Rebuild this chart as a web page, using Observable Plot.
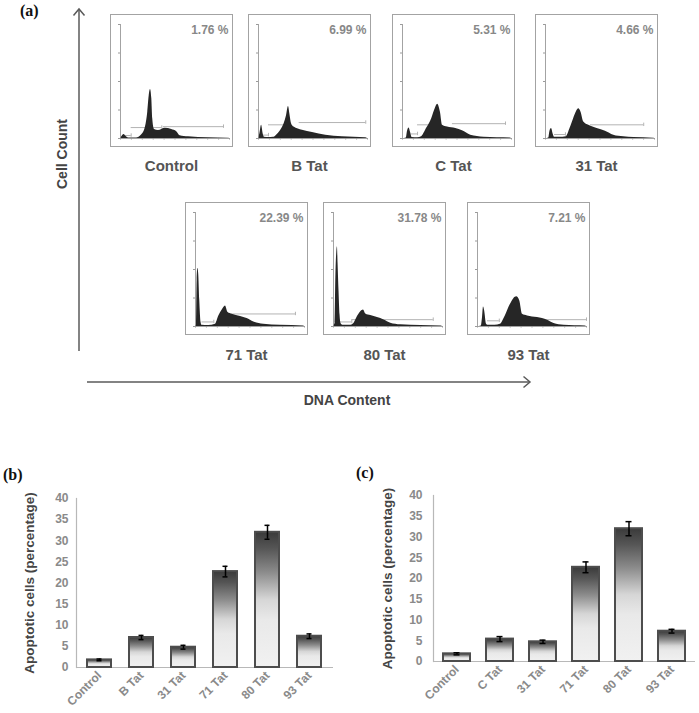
<!DOCTYPE html>
<html>
<head>
<meta charset="utf-8">
<script src="https://cdn.jsdelivr.net/npm/d3@7"></script>
<script src="https://cdn.jsdelivr.net/npm/@observablehq/plot@0.6"></script>
<style>
  body { margin: 0; background: #fff; }
  #fig { position: relative; width: 699px; height: 713px; overflow: hidden; font-family: "Liberation Sans", Arial, sans-serif; }
  .abs { position: absolute; }
  .panel { position: absolute; font: bold 16px/1 "Liberation Serif", "Times New Roman", serif; color: #111; }
  .hbox { position: absolute; border: 1.5px solid #a3a3a3; box-sizing: border-box; width: 123px; height: 133px; background: #fff; }
  .hbox svg { display: block; }
  .hlabel { position: absolute; font: bold 15px/1 "Liberation Sans", Arial, sans-serif; color: #555; transform: translate(-50%, -50%); white-space: nowrap; }
  .axtitle { position: absolute; font: bold 14px/1 "Liberation Sans", Arial, sans-serif; color: #444; white-space: nowrap; transform: translate(-50%, -50%); }
  .bars svg [aria-label="y-axis label"], .bars svg [aria-label="y-axis label"] text {
    fill: #454545 !important; font-size: 13.5px !important; font-weight: bold !important;
  }
</style>
</head>
<body>
<div id="fig"></div>
<script>
// ---------------- DATA ----------------
// Panel (a): DNA-content histograms, [channel, relative count]
const histNames = ["Control", "B Tat", "C Tat", "31 Tat", "71 Tat", "80 Tat", "93 Tat"];
const histPercents = ["1.76 %", "6.99 %", "5.31 %", "4.66 %", "22.39 %", "31.78 %", "7.21 %"];

const histControl = [[0,0],[12,1.5],[32,3.5],[55,1.5],[73,0.5],[147,0.5],[193,3],[226,9],[250,23],[263,37],[275,43],[287,35],[296,17],[312,8],[348,7],[410,9],[470,8],[516,6],[547,2.5],[624,1.5],[807,0.6],[990,0.3],[1000,0]];
const histBTat = [[0,0],[12,4],[28,11.6],[43,4],[55,1],[92,0.8],[138,1],[159,2.3],[204,7.2],[235,13],[257,20],[275,28],[290,20],[303,13],[326,10],[403,7.2],[495,5.2],[617,2.9],[770,1.5],[984,0.6],[1000,0]];
const histCTat = [[0,0],[35,0.5],[45,6],[60,9.3],[75,5],[88,0.8],[140,0.6],[175,1.5],[220,8.7],[268,17.4],[300,26],[322,30],[348,23],[367,11.6],[413,10],[489,8.7],[550,6.7],[626,2.9],[748,1.2],[990,0.4],[1000,0]];
const hist31Tat = [[0,0],[30,0.5],[40,6],[55,8.7],[70,4],[82,1.2],[130,1],[190,1.5],[225,8.7],[258,17.4],[284,23.5],[305,26],[326,23],[351,14.5],[397,11.6],[473,8.7],[550,6.4],[626,2.9],[718,1.5],[810,0.9],[993,0.3],[1000,0]];
const hist71Tat = [[0,0],[10,2],[15,40],[22,51],[30,45],[39,23],[51,3.5],[60,1],[120,0.8],[183,2],[214,9.3],[245,14.5],[275,18],[299,12.2],[336,10.7],[413,8.7],[473,7],[535,4],[626,2],[779,1.1],[993,0.4],[1000,0]];
const hist80Tat = [[0,0],[15,3],[22,45],[30,65],[36,70],[42,55],[51,30],[60,10],[70,2.5],[90,1],[150,1],[189,2.9],[220,8.7],[250,13],[275,14.5],[296,11],[342,9.6],[403,7.8],[464,5.8],[525,2.9],[617,1.5],[800,0.9],[990,0.4],[1000,0]];
const hist93Tat = [[0,0],[35,0.5],[46,8],[55,17],[65,14],[83,2],[95,1],[160,1],[210,2],[255,9.3],[300,19],[333,24.4],[360,26],[388,22.4],[413,10.7],[459,9.3],[550,7.8],[642,5.5],[702,2.6],[794,1.1],[990,0.4],[1000,0]];

// gate markers [x1, x2, level]
const gatesControl = [[46,98,2.6],[98,379,9.6],[394,945,10.4]];
const gatesBTat = [[45,92,3],[92,266,12],[373,984,14]];
const gatesCTat = [[80,138,4],[138,348,12],[458,945,13]];
const gates31Tat = [[83,183,3.5],[413,901,12]];
const gates71Tat = [[60,168,4],[260,917,11]];
const gates80Tat = [[60,168,4],[168,915,6]];
const gates93Tat = [[92,200,5],[397,1000,6]];

// Panel (b)
const catsB = ["Control", "B Tat", "31 Tat", "71 Tat", "80 Tat", "93 Tat"];
const meanB = [1.8, 7.1, 4.8, 22.7, 32.0, 7.4];
const errB  = [0.2, 0.5, 0.45, 1.25, 1.65, 0.55];

// Panel (c)
const catsC = ["Control", "C Tat", "31 Tat", "71 Tat", "80 Tat", "93 Tat"];
const meanC = [1.85, 5.4, 4.75, 22.7, 32.0, 7.3];
const errC  = [0.25, 0.6, 0.4, 1.3, 1.7, 0.45];

const yTicks = [0, 5, 10, 15, 20, 25, 30, 35, 40];

// ---------------- LAYOUT ----------------
const fig = document.getElementById("fig");
const histData = [histControl, histBTat, histCTat, hist31Tat, hist71Tat, hist80Tat, hist93Tat];
const gateData = [gatesControl, gatesBTat, gatesCTat, gates31Tat, gates71Tat, gates80Tat, gates93Tat];
const boxLeft = [110, 248, 392, 535, 185, 323, 467];
const boxTop  = [14, 14, 14, 14, 202, 202, 202];
const labelY  = [165, 165, 165, 165, 354, 354, 354];

function addDiv(cls, html, style) {
  const d = document.createElement("div");
  d.className = cls;
  d.innerHTML = html;
  Object.assign(d.style, style);
  fig.appendChild(d);
  return d;
}

// arrows of panel (a)
fig.insertAdjacentHTML("beforeend",
  `<svg class="abs" style="left:0;top:0" width="699" height="420">
     <g stroke="#5a5a5a" stroke-width="1.5" fill="none">
       <line x1="79" y1="9" x2="79" y2="351"/>
       <polyline points="73.5,15.5 79,9 84.5,15.5"/>
       <line x1="87" y1="382" x2="530" y2="382"/>
       <polyline points="523.5,376.5 530,382 523.5,387.5"/>
     </g>
   </svg>`);

addDiv("panel", "(a)", {left: "20px", top: "3px"});
addDiv("panel", "(b)", {left: "3px", top: "467px"});
addDiv("panel", "(c)", {left: "356px", top: "465px"});
addDiv("axtitle", "Cell Count", {left: "62px", top: "154px", transform: "translate(-50%,-50%) rotate(-90deg)"});
addDiv("axtitle", "DNA Content", {left: "347px", top: "400px"});

function histPlot(data, gates, pct) {
  const d = data.map(([ch, c]) => ({ch, c}));
  const g = gates.map(([x1, x2, y]) => ({x1, x2, y}));
  return Plot.plot({
    width: 120, height: 130,
    marginLeft: 9, marginTop: 9, marginBottom: 7, marginRight: 2,
    x: {type: "linear", domain: [0, 1000], axis: null},
    y: {type: "linear", domain: [0, 100], axis: null},
    style: {background: "transparent", overflow: "visible", fontFamily: "Liberation Sans, Arial, sans-serif"},
    marks: [
      Plot.ruleY(g, {x1: "x1", x2: "x2", y: "y", stroke: "#a0a0a0", strokeWidth: 0.8}),
      Plot.ruleX(g, {x: "x2", y1: d => d.y - 1.5, y2: d => d.y + 1.5, stroke: "#a0a0a0", strokeWidth: 0.8}),
      Plot.areaY(d, {x: "ch", y: "c", fill: "#262626", curve: "monotone-x"}),
      Plot.ruleX([0], {stroke: "#8c8c8c", strokeWidth: 0.8}),
      Plot.ruleY([0], {stroke: "#8c8c8c", strokeWidth: 0.8}),
      Plot.axisY({ticks: [0, 25, 50, 75, 100], tickSize: 2, tickFormat: () => "", label: null, stroke: "#9a9a9a"}),
      Plot.axisX({ticks: d3.range(0, 1001, 100), tickSize: 1.5, tickFormat: () => "", label: null, stroke: "#9a9a9a"}),
      Plot.text([pct], {text: d => d, frameAnchor: "top-right", lineAnchor: "top", textAnchor: "end",
        fontSize: 12, fontWeight: "bold", fill: "#888888", dx: -1, dy: 1})
    ]
  });
}

histNames.forEach((name, i) => {
  const box = addDiv("hbox", "", {left: boxLeft[i] + "px", top: boxTop[i] + "px"});
  box.appendChild(histPlot(histData[i], gateData[i], histPercents[i]));
  addDiv("hlabel", name, {left: (boxLeft[i] + 61.5) + "px", top: labelY[i] + "px"});
});

// ---------------- BAR CHARTS ----------------
function barPlot(cats, vals, errs, o) {
  const data = cats.map((c, i) => ({cat: c, v: vals[i], e: errs[i]}));
  const p = Plot.plot({
    width: o.width, height: o.height,
    marginTop: o.mt, marginBottom: o.mb, marginLeft: o.ml, marginRight: o.mr,
    style: {fontFamily: "Liberation Sans, Arial, sans-serif", background: "transparent", overflow: "visible"},
    x: {domain: cats, paddingInner: o.pi, paddingOuter: o.po},
    y: {domain: [0, 40]},
    marks: [
      Plot.frame({anchor: "left", stroke: "#b8b8b8", strokeWidth: 1.2}),
      Plot.axisY({ticks: yTicks, tickSize: 0, tickPadding: o.tp, fontSize: 12, fontWeight: "bold",
        fill: "#8a8a8a", stroke: "#c4c4c4",
        label: "Apoptotic cells (percentage)", labelAnchor: "center", labelArrow: "none", labelOffset: o.lo}),
      Plot.axisX({tickSize: 0, tickRotate: -45, tickPadding: 6, fontSize: 12, fontWeight: "bold", fill: "#8a8a8a", label: null}),
      Plot.ruleY([0], {stroke: "#b8b8b8", strokeWidth: 1.2}),
      Plot.barY(data, {x: "cat", y: "v", fill: `url(#${o.grad})`, stroke: "#4d4d4d", strokeWidth: 2}),
      Plot.ruleX(data, {x: "cat", y1: d => d.v - d.e, y2: d => d.v + d.e, stroke: "#000", strokeWidth: 1.5}),
      Plot.tickY(data, {x: "cat", y: d => d.v - d.e, stroke: "#000", strokeWidth: 1.5, inset: o.cap}),
      Plot.tickY(data, {x: "cat", y: d => d.v + d.e, stroke: "#000", strokeWidth: 1.5, inset: o.cap})
    ]
  });
  const defs = d3.select(p).insert("defs", ":first-child");
  const lg = defs.append("linearGradient").attr("id", o.grad)
    .attr("x1", 0).attr("y1", 0).attr("x2", 0).attr("y2", 1);
  [[0, "#3a3a3a"], [0.12, "#555555"], [0.3, "#8c8c8c"], [0.5, "#d6d6d6"], [0.65, "#e9e9e9"], [1, "#f1f1f1"]]
    .forEach(([off, col]) => lg.append("stop").attr("offset", off).attr("stop-color", col));
  return p;
}

const bWrap = addDiv("abs bars", "", {left: "0px", top: "480px"});
bWrap.appendChild(barPlot(catsB, meanB, errB, {
  width: 345, height: 233, mt: 18, mb: 46, ml: 76, mr: 12, pi: 0.42, po: 0.2, tp: 8, lo: 52, cap: 9.5, grad: "gradB"
}));
const cWrap = addDiv("abs bars", "", {left: "350px", top: "477px"});
cWrap.appendChild(barPlot(catsC, meanC, errC, {
  width: 349, height: 236, mt: 18, mb: 52, ml: 83, mr: 4, pi: 0.38, po: 0.17, tp: 11, lo: 51, cap: 10.5, grad: "gradC"
}));
</script>
</body>
</html>
